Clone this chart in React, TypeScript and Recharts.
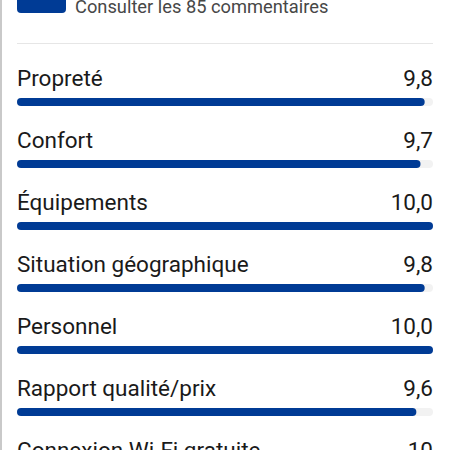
import React from 'react';
import { BarChart, Bar, XAxis, YAxis, LabelList } from 'recharts';

const categories = [
  'Propreté',
  'Confort',
  'Équipements',
  'Situation géographique',
  'Personnel',
  'Rapport qualité/prix',
  'Connexion Wi-Fi gratuite',
];
const scores = [9.8, 9.7, 10, 9.8, 10, 9.6, 10];
const scoreLabels = ['9,8', '9,7', '10,0', '9,8', '10,0', '9,6', '10'];

const data = categories.map((name, i) => ({ name, score: scores[i], label: scoreLabels[i] }));

const CHART_W = 450;
const MARGIN = { top: 71, right: 17, left: 17, bottom: 15 };
const PLOT_RIGHT = CHART_W - MARGIN.right;
const FONT = 'Roboto, "Noto Sans", sans-serif';

const RowLabel = (props: any) => {
  const { x, y, height, index } = props;
  const baseline = y + height / 2 - 16;
  return (
    <g>
      <text x={x} y={baseline} fill="#1a1a1a" fontSize={22.5} fontFamily={FONT}>
        {data[index].name}
      </text>
      <text x={PLOT_RIGHT} y={baseline} fill="#1a1a1a" fontSize={22.5} fontFamily={FONT} textAnchor="end">
        {data[index].label}
      </text>
    </g>
  );
};

export default function App() {
  return (
    <div
      style={{
        position: 'fixed',
        top: 0,
        left: 0,
        width: 450,
        height: 450,
        overflow: 'hidden',
        background: '#fff',
        fontFamily: FONT,
      }}
    >
      <div style={{ position: 'absolute', left: 0, top: 0, width: 2, height: 450, background: '#c9c9c9' }} />
      <div
        style={{
          position: 'absolute',
          left: 17,
          top: -10,
          width: 49,
          height: 23,
          background: '#003b95',
          borderRadius: 4,
        }}
      />
      <div
        style={{
          position: 'absolute',
          left: 75,
          top: -4,
          fontSize: 18.3,
          lineHeight: '22px',
          color: '#474747',
          whiteSpace: 'nowrap',
        }}
      >
        Consulter les 85 commentaires
      </div>
      <div style={{ position: 'absolute', left: 17, top: 43, width: 416, height: 1, background: '#e6e6e6' }} />
      <div style={{ position: 'absolute', left: 0, top: 0 }}>
        <BarChart width={CHART_W} height={520} data={data} layout="vertical" margin={MARGIN}>
          <XAxis type="number" domain={[0, 10]} hide />
          <YAxis type="category" dataKey="name" hide />
          <Bar
            dataKey="score"
            barSize={8}
            fill="#003b95"
            radius={4}
            background={{ fill: '#f2f2f2', radius: 4 }}
            isAnimationActive={false}
          >
            <LabelList dataKey="score" content={<RowLabel />} />
          </Bar>
        </BarChart>
      </div>
    </div>
  );
}
